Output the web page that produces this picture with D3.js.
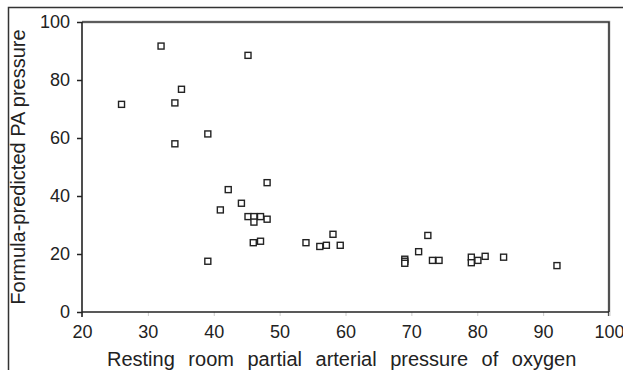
<!DOCTYPE html>
<html>
<head>
<meta charset="utf-8">
<script src="https://cdn.jsdelivr.net/npm/d3@7"></script>
<style>
  body { margin: 0; background: #fff; }
  text { font-family: "Liberation Sans", Arial, sans-serif; fill: #222; }
</style>
</head>
<body>
<div id="chart"></div>
<script>
// resting room-air PaO2 (x) vs formula predicted PA pressure (y)
var pao2 = [26, 32, 45.2, 35.1, 34.1, 34.1, 39.1, 42.2, 48.1,
    41, 44.2, 45.2, 46.1, 47.1, 46.1, 48.1, 46, 47.1, 39.1,
    54, 56.1, 57.1, 58.1, 59.2,
    69, 69, 69, 72.5, 71.1, 73.2, 74.2,
    79.1, 79.1, 80.1, 81.2, 84, 92.1]
var paPressure = [71.6, 91.7, 88.5, 76.8, 72.1, 58.0, 61.4, 42.2, 44.6,
    35.2, 37.5, 32.9, 32.9, 32.9, 31.0, 32.0, 23.9, 24.4, 17.5,
    23.9, 22.6, 23.0, 26.8, 23.0,
    18.2, 17.5, 16.8, 26.4, 20.8, 17.8, 17.8,
    18.9, 17.0, 17.8, 19.2, 18.9, 16.0]

var xTicks = [20, 30, 40, 50, 60, 70, 80, 90, 100]
var yTicks = [0, 20, 40, 60, 80, 100]

var width = 623, height = 370
var mLeft = 82, mRight = 609, mTop = 22, mBottom = 312

var svg = d3.select("#chart")
    .append("svg")
    .attr("width", width)
    .attr("height", height)

var x = d3.scaleLinear().domain([20, 100]).range([mLeft, mRight])
var y = d3.scaleLinear().domain([0, 100]).range([mBottom, mTop])

// outer frame (only top and left are visible)
svg.append("path")
    .attr("d", "M8.5," + height + "V7.5H" + width)
    .attr("fill", "none")
    .attr("stroke", "#333")
    .attr("stroke-width", 1.5)

// plot box: top and right borders
svg.append("path")
    .attr("d", "M" + mLeft + "," + mTop + "H" + mRight + "V" + (mBottom + 4))
    .attr("fill", "none")
    .attr("stroke", "#999")
    .attr("stroke-width", 2.5)
svg.append("path")
    .attr("d", "M" + mLeft + "," + mTop + "H" + mRight + "V" + (mBottom + 4))
    .attr("fill", "none")
    .attr("stroke", "#222")
    .attr("stroke-width", 1.2)

var xAxis = d3.axisBottom(x)
    .tickValues(xTicks)
    .tickSize(4)
    .tickPadding(9)

var yAxis = d3.axisLeft(y)
    .tickValues(yTicks)
    .tickSize(5)
    .tickPadding(7)

var gx = svg.append("g")
    .attr("transform", "translate(0," + mBottom + ")")
    .call(xAxis)
gx.select(".domain").remove()
gx.selectAll(".tick line").attr("stroke", "#ccc")
gx.selectAll(".tick text")
    .style("font-size", "18px")
    .attr("fill", "#222")

var gy = svg.append("g")
    .attr("transform", "translate(" + mLeft + ",0)")
    .call(yAxis)
gy.select(".domain").remove()
gy.selectAll(".tick line").attr("stroke", "#222").attr("stroke-width", 1.5)
gy.selectAll(".tick text")
    .style("font-size", "18px")
    .attr("fill", "#222")

// axis lines
svg.append("line")
    .attr("x1", mLeft).attr("x2", mRight)
    .attr("y1", mBottom).attr("y2", mBottom)
    .attr("stroke", "#222").attr("stroke-width", 1.6)
svg.append("line")
    .attr("x1", mLeft).attr("x2", mLeft)
    .attr("y1", mTop).attr("y2", mBottom + 5)
    .attr("stroke", "#222").attr("stroke-width", 1.6)

// points
svg.selectAll("rect.pt")
    .data(pao2.map(function (d, i) { return [d, paPressure[i]] }))
    .enter().append("rect")
    .attr("class", "pt")
    .attr("x", function (d) { return x(d[0]) - 3 })
    .attr("y", function (d) { return y(d[1]) - 3 })
    .attr("width", 6)
    .attr("height", 6)
    .attr("fill", "#fff")
    .attr("stroke", "#222")
    .attr("stroke-width", 1.4)

// axis titles
svg.append("text")
    .attr("transform", "translate(25," + ((mTop + mBottom) / 2) + ") rotate(-90)")
    .attr("text-anchor", "middle")
    .style("font-size", "20px")
    .text("Formula-predicted PA pressure")

svg.append("text")
    .attr("x", 107)
    .attr("y", 366)
    .style("font-size", "20px")
    .style("word-spacing", "8px")
    .text("Resting room partial arterial pressure of oxygen")
</script>
</body>
</html>
